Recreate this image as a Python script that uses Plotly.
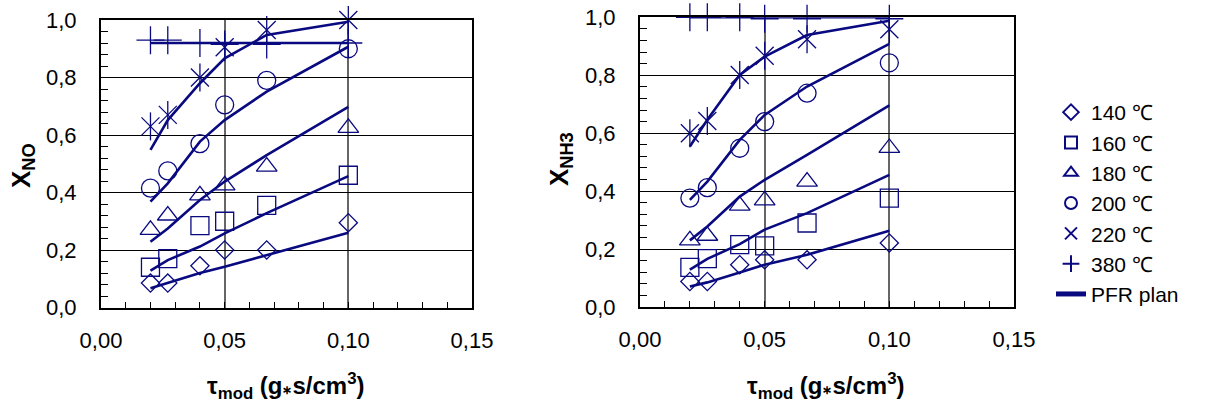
import plotly.graph_objects as go

# ---------------- data ----------------
tau = [0.020, 0.027, 0.040, 0.050, 0.067, 0.100]
temps = ["140 ℃", "160 ℃", "180 ℃", "200 ℃", "220 ℃", "380 ℃"]

# X_NO measured
no_140 = [0.085, 0.085, 0.145, 0.200, 0.200, 0.295]
no_160 = [0.140, 0.170, 0.285, 0.300, 0.355, 0.460]
no_180 = [0.270, 0.320, 0.390, 0.425, 0.490, 0.625]
no_200 = [0.415, 0.475, 0.570, 0.705, 0.790, 0.900]
no_220 = [0.630, 0.670, 0.800, 0.905, 0.965, 1.000]
no_380 = [0.930, 0.930, 0.920, 0.915, 0.915, 0.920]

# X_NO PFR plan
no_pfr_140 = [0.067, 0.085, 0.120, 0.142, 0.183, 0.260]
no_pfr_160 = [0.128, 0.165, 0.212, 0.258, 0.328, 0.457]
no_pfr_180 = [0.229, 0.275, 0.374, 0.438, 0.530, 0.698]
no_pfr_200 = [0.368, 0.432, 0.577, 0.652, 0.751, 0.907]
no_pfr_220 = [0.548, 0.652, 0.780, 0.867, 0.948, 0.994]
no_pfr_380 = [0.920, 0.920, 0.920, 0.920, 0.920, 0.920]

# X_NH3 measured
nh_140 = [0.088, 0.088, 0.146, 0.163, 0.163, 0.221]
nh_160 = [0.137, 0.167, 0.215, 0.211, 0.290, 0.376]
nh_180 = [0.230, 0.246, 0.350, 0.368, 0.433, 0.549]
nh_200 = [0.376, 0.412, 0.548, 0.640, 0.738, 0.843]
nh_220 = [0.600, 0.642, 0.801, 0.867, 0.924, 0.959]
nh_380 = [1.000, 1.000, 1.000, 0.995, 0.995, 0.995]

# X_NH3 PFR plan
nh_pfr_140 = [0.071, 0.085, 0.119, 0.146, 0.180, 0.263]
nh_pfr_160 = [0.129, 0.166, 0.217, 0.267, 0.324, 0.456]
nh_pfr_180 = [0.230, 0.278, 0.381, 0.439, 0.525, 0.696]
nh_pfr_200 = [0.370, 0.433, 0.577, 0.663, 0.761, 0.908]
nh_pfr_220 = [0.554, 0.646, 0.801, 0.864, 0.939, 0.988]
nh_pfr_380 = [1.000, 1.000, 1.000, 1.000, 1.000, 1.000]

x_ticks = [0.00, 0.05, 0.10, 0.15]
y_ticks = [0.0, 0.2, 0.4, 0.6, 0.8, 1.0]

# ---------------- style ----------------
NAVY = "#0a0a80"
FONT = "Liberation Sans, Arial, sans-serif"
symbols = ["diamond-open", "square-open", "triangle-up-open", "circle-open", "x-thin-open", "cross-thin-open"]
sizes = [14, 18, 18, 18, 18, 20]

fig = go.Figure()

panels = [
    ("x", "y", [no_140, no_160, no_180, no_200, no_220, no_380],
     [no_pfr_140, no_pfr_160, no_pfr_180, no_pfr_200, no_pfr_220, no_pfr_380]),
    ("x2", "y2", [nh_140, nh_160, nh_180, nh_200, nh_220, nh_380],
     [nh_pfr_140, nh_pfr_160, nh_pfr_180, nh_pfr_200, nh_pfr_220, nh_pfr_380]),
]

for pi, (xa, ya, meas, pfr) in enumerate(panels):
    # model lines
    for li, line in enumerate(pfr):
        fig.add_trace(go.Scatter(
            x=tau, y=line, mode="lines", xaxis=xa, yaxis=ya,
            line=dict(color=NAVY, width=2.6),
            name="PFR plan", legendrank=1000,
            showlegend=(pi == 0 and li == 0), cliponaxis=False))
    # measured markers
    for si, ser in enumerate(meas):
        fig.add_trace(go.Scatter(
            x=tau, y=ser, mode="markers", xaxis=xa, yaxis=ya,
            marker=dict(symbol=symbols[si], size=sizes[si], color=NAVY,
                        line=dict(color=NAVY, width=1.3)),
            name=temps[si], legendrank=si + 1,
            showlegend=(pi == 0), cliponaxis=False))
        if si == 4:  # vertical stroke of the 6-arm star
            fig.add_trace(go.Scatter(
                x=tau, y=ser, mode="markers", xaxis=xa, yaxis=ya,
                marker=dict(symbol="line-ns-open", size=20, color=NAVY,
                            line=dict(color=NAVY, width=1.3)),
                name=temps[si], showlegend=False, cliponaxis=False))

W, H = 1214, 408

def xax(domain, anchor):
    return dict(domain=domain, anchor=anchor, range=[0, 0.15], automargin=False,
                tickvals=x_ticks, tickformat=".2f", ticks="inside", ticklen=6,
                tickcolor="black", showline=True, mirror=True, linecolor="black",
                linewidth=2, showgrid=True, gridcolor="#666666", gridwidth=1.5,
                zeroline=False, tickfont=dict(family=FONT, size=22, color="black"),
                minor=dict(dtick=0.01, ticks="inside", ticklen=6, tickcolor="black",
                           showgrid=False),
                ticklabelstandoff=12)

def yax(domain, anchor):
    return dict(domain=domain, anchor=anchor, range=[0, 1.0], automargin=False,
                tickvals=y_ticks, tickformat=".1f", ticks="inside", ticklen=7,
                tickcolor="black", showline=True, mirror=True, linecolor="black",
                linewidth=2, showgrid=True, gridcolor="black", gridwidth=1,
                zeroline=False, tickfont=dict(family=FONT, size=22, color="black"),
                minor=dict(dtick=0.04, ticks="inside", ticklen=7, tickcolor="black",
                           showgrid=False),
                ticklabelstandoff=18)

fig.update_layout(
    width=W, height=H,
    margin=dict(l=0, r=0, t=0, b=0),
    paper_bgcolor="white", plot_bgcolor="white",
    separators=",.",
    font=dict(family=FONT, size=22, color="black"),
    xaxis=xax([101 / W, 472 / W], "y"),
    yaxis=yax([1 - 307.5 / H, 1 - 20 / H], "x"),
    xaxis2=xax([640 / W, 1014 / W], "y2"),
    yaxis2=yax([1 - 307 / H, 1 - 17.3 / H], "x2"),
    showlegend=True,
    legend=dict(x=1051 / W, y=1 - 92 / H, xanchor="left", yanchor="top",
                font=dict(family=FONT, size=21, color="black"),
                bgcolor="rgba(0,0,0,0)", tracegroupgap=0, traceorder="normal",
                itemsizing="constant"),
)

title_x = "<b>τ<sub>mod</sub> (g<span style='font-size:12px'>∗</span>s/cm<sup>3</sup>)</b>"
common = dict(xref="paper", yref="paper", showarrow=False,
              xanchor="center", yanchor="middle")
fig.add_annotation(text=title_x, x=286 / W, y=1 - 386 / H,
                   font=dict(family=FONT, size=24, color="black"), **common)
fig.add_annotation(text=title_x, x=826 / W, y=1 - 386 / H,
                   font=dict(family=FONT, size=24, color="black"), **common)
fig.add_annotation(text="<b>X<sub>NO</sub></b>", x=22 / W, y=1 - 166 / H, textangle=-90,
                   font=dict(family=FONT, size=26, color="black"), **common)
fig.add_annotation(text="<b>X<sub>NH3</sub></b>", x=561 / W, y=1 - 159 / H, textangle=-90,
                   font=dict(family=FONT, size=26, color="black"), **common)

fig.write_html("out.html")
